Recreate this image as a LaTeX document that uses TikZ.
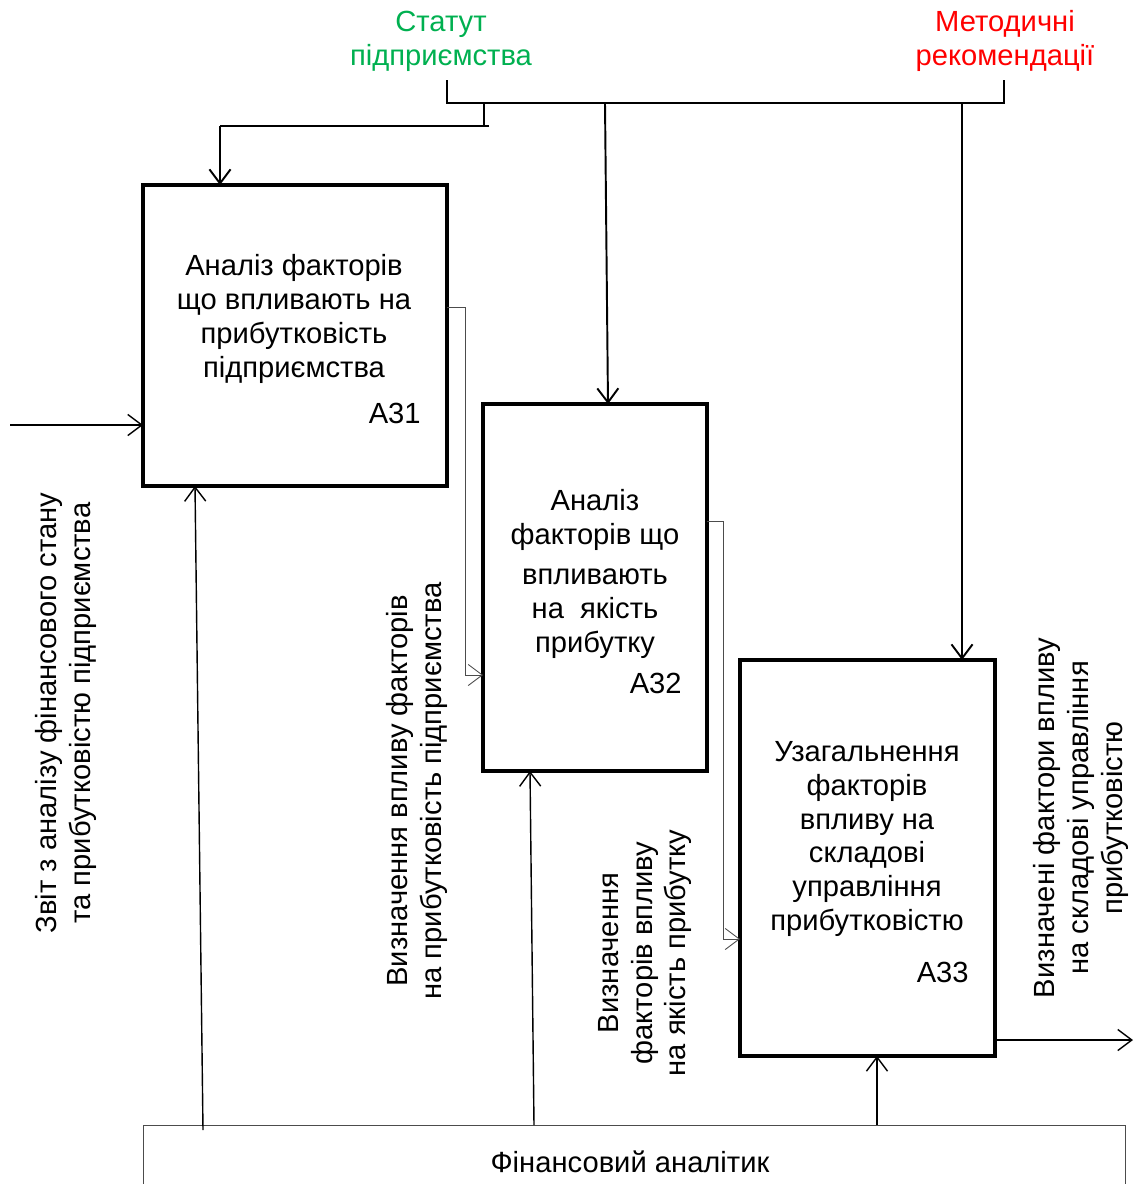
\documentclass[tikz,border=0pt]{standalone}
\usepackage{fontspec}
\setmainfont{Liberation Sans}
\usetikzlibrary{arrows.meta}
\definecolor{stgreen}{RGB}{0,176,80}
\definecolor{mred}{RGB}{255,0,0}
\begin{document}
\begin{tikzpicture}[x=0.02cm,y=-0.02cm,
  font=\fontsize{16.6}{19.3}\selectfont,
  box/.style={draw,line width=2.3pt,inner sep=0pt,outer sep=0pt,anchor=north west},
  lbl/.style={align=center,inner sep=0pt},
  arr/.style={-{Straight Barb[length=8pt,width=12pt]},line width=0.8pt},
  thin/.style={-{Straight Barb[length=8pt,width=12pt]},line width=0.5pt,draw=black!70},
  brk/.style={line width=1.1pt}]
\useasboundingbox (0,0) rectangle (1134,1184);
% boxes
\node[box,minimum width=6.08cm,minimum height=6.02cm] (a31) at (143,185) {};
\node[box,minimum width=4.48cm,minimum height=7.34cm] (a32) at (483,404) {};
\node[box,minimum width=5.10cm,minimum height=7.92cm] (a33) at (740,660) {};
% box texts
\node[lbl] (t31) at (294,319) {Аналіз факторів\\що впливають на\\прибутковість\\підприємства};
\node[lbl,anchor=east] (n31) at (421,413) {А31};
\node[lbl] (t32) at (595,574) {Аналіз\\факторів що\\[3.4pt]впливають\\на\ \ якість\\прибутку};
\node[lbl,anchor=east] (n32) at (682,683) {А32};
\node[lbl] (t33) at (867,839) {Узагальнення\\факторів\\впливу на\\складові\\управління\\прибутковістю};
\node[lbl,anchor=east] (n33) at (969,972) {А33};
% top labels
\node[lbl,text=stgreen] (stat) at (441,41) {Статут\\підприємства};
\node[lbl,text=mred] (met) at (1005,41) {Методичні\\рекомендації};
% bracket
\coordinate (bl) at (447,80);
\coordinate (br) at (1004,80);
\coordinate (bbl) at (447,103);
\coordinate (bbr) at (1004,103);
\draw[brk] (bl) -- (bbl) -- (bbr) -- (br);
\coordinate (c1) at (484,103);
\coordinate (c1b) at (484,126);
\coordinate (c1e) at (489,126);
\coordinate (c1l) at (220,126);
\draw[brk] (c1) -- (c1b);
\draw[brk] (c1e) -- (c1l);
\draw[arr,line width=1.1pt] (c1l) -- (a31.north west -| c1l);
\coordinate (c2) at (605,103);
\draw[arr,line width=1.1pt] (c2) -- (608,404);
\coordinate (c3) at (962,103);
\draw[arr,line width=1.1pt] (c3) -- (a33.north west -| c3);
% input
\coordinate (in) at (10,425);
\draw[arr] (in) -- (in -| a31.west);
\node[lbl,rotate=90] (inl) at (66,713) {Звіт з аналізу фінансового стану\\та прибутковістю підприємства};
% A31 -> A32
\coordinate (o1) at (447,307);
\coordinate (o1r) at (465,307);
\coordinate (o1d) at (465,675);
\draw[thin] (o1) -- (o1r) -- (o1d) -- (o1d -| a32.west);
\node[lbl,rotate=90] (l12) at (417,791) {Визначення впливу факторів\\на прибутковість підприємства};
% A32 -> A33
\coordinate (o2) at (707,521);
\coordinate (o2r) at (723,521);
\coordinate (o2d) at (723,939);
\draw[thin] (o2) -- (o2r) -- (o2d) -- (o2d -| a33.west);
\node[lbl,rotate=90] (l23) at (645,953) {Визначення\\факторів впливу\\на якість прибутку};
% output
\coordinate (out) at (1133,1040);
\draw[arr] (out -| a33.east) -- (out);
\node[lbl,rotate=90] (outl) at (1081,818) {Визначені фактори впливу\\на складові управління\\прибутковістю};
% mechanism box
\draw[line width=0.5pt,draw=black!70] (143,1184) -- (143,1125) -- (1125,1125) -- (1125,1184);
\node[lbl] (mech) at (630,1162) {Фінансовий аналітик};
\coordinate (m1) at (203,1130);
\coordinate (m1e) at (195,486);
\coordinate (m2) at (534,1125);
\coordinate (m2e) at (530,771);
\coordinate (m3) at (877,1125);
\draw[arr] (m1) -- (m1e);
\draw[arr] (m2) -- (m2e);
\draw[arr] (m3) -- (m3 |- a33.south);
\end{tikzpicture}
\end{document}
